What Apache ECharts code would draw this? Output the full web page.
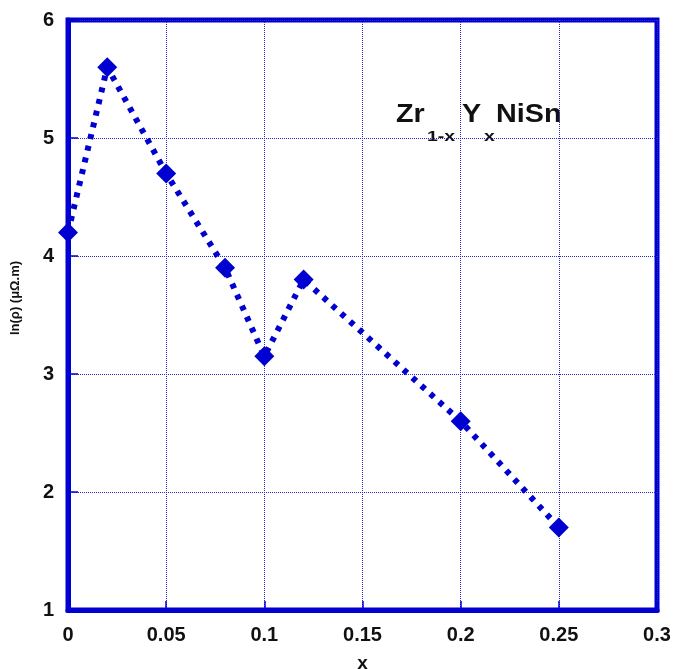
<!DOCTYPE html>
<html>
<head>
<meta charset="utf-8">
<script src="https://cdn.jsdelivr.net/npm/echarts@6/dist/echarts.min.js"></script>
<style>
  html, body { margin: 0; padding: 0; background: #ffffff; }
  #chart { width: 675px; height: 669px; }
</style>
</head>
<body>
<div id="chart"></div>
<script>
// ---- data ----
const xValues = [0, 0.02, 0.05, 0.08, 0.10, 0.12, 0.20, 0.25];
const lnRho   = [4.2, 5.6, 4.7, 3.9, 3.15, 3.8, 2.6, 1.7];

const xTickLabels = ['0', '0.05', '0.1', '0.15', '0.2', '0.25', '0.3'];
const yTickLabels = ['1', '2', '3', '4', '5', '6'];

const xAxisTitle = 'x';
const yAxisTitle = 'ln(ρ) (μΩ.m)';

// ---- styling ----
const BLUE = '#0000d0';
const FONT = "'Liberation Sans', Arial, sans-serif";

const seriesData = xValues.map((x, i) => [x, lnRho[i]]);

const chart = echarts.init(document.getElementById('chart'), null, { renderer: 'canvas' });

chart.setOption({
  backgroundColor: '#ffffff',
  animation: false,
  grid: {
    left: 68, right: 18, top: 20, bottom: 59,
    containLabel: false,
    outerBoundsMode: 'none',
    show: true,
    borderColor: BLUE,
    borderWidth: 5,
    backgroundColor: 'transparent'
  },
  xAxis: {
    type: 'value',
    min: 0, max: 0.3, interval: 0.05,
    name: xAxisTitle,
    nameLocation: 'middle',
    nameGap: 44,
    nameTextStyle: { fontFamily: FONT, fontSize: 19, fontWeight: 'bold', color: '#111' },
    axisLine: { show: true, onZero: false, lineStyle: { color: BLUE, width: 5 } },
    axisTick: { show: true, inside: true, length: 9, lineStyle: { color: BLUE, width: 1.5 } },
    splitLine: { show: true, lineStyle: { color: '#2a2ad0', width: 1, type: 'dotted' } },
    axisLabel: {
      margin: 15,
      fontFamily: FONT, fontSize: 20, fontWeight: 'bold', color: '#111',
      formatter: v => xTickLabels[Math.round(v / 0.05)]
    }
  },
  yAxis: {
    type: 'value',
    min: 1, max: 6, interval: 1,
    axisLine: { show: true, onZero: false, lineStyle: { color: BLUE, width: 5 } },
    axisTick: { show: true, inside: true, length: 10, lineStyle: { color: BLUE, width: 1.5 } },
    splitLine: { show: true, lineStyle: { color: '#2a2ad0', width: 1, type: 'dotted' } },
    axisLabel: {
      margin: 14,
      fontFamily: FONT, fontSize: 20, fontWeight: 'bold', color: '#111',
      formatter: v => yTickLabels[Math.round(v - 1)]
    }
  },
  graphic: [
    { type: 'text', x: 15, y: 298, rotation: Math.PI / 2,
      style: { text: yAxisTitle, font: "bold 13px " + FONT, fill: '#111', align: 'center', verticalAlign: 'middle' } },
    { type: 'text', x: 396, y: 115.5, scaleX: 1.15,
      style: { text: 'Zr', font: "bold 25px " + FONT, fill: '#111', align: 'left', verticalAlign: 'middle' } },
    { type: 'text', x: 427, y: 137, scaleX: 1.3,
      style: { text: '1-x', font: "bold 15px " + FONT, fill: '#111', align: 'left', verticalAlign: 'middle' } },
    { type: 'text', x: 462, y: 115.5, scaleX: 1.15,
      style: { text: 'Y', font: "bold 25px " + FONT, fill: '#111', align: 'left', verticalAlign: 'middle' } },
    { type: 'text', x: 484, y: 137, scaleX: 1.3,
      style: { text: 'x', font: "bold 15px " + FONT, fill: '#111', align: 'left', verticalAlign: 'middle' } },
    { type: 'text', x: 496, y: 115.5, scaleX: 1.15,
      style: { text: 'NiSn', font: "bold 25px " + FONT, fill: '#111', align: 'left', verticalAlign: 'middle' } }
  ],
  series: [{
    type: 'line',
    data: seriesData,
    clip: false,
    symbol: 'diamond',
    symbolSize: 20,
    itemStyle: { color: BLUE },
    lineStyle: { color: BLUE, width: 6, type: [5, 7], cap: 'butt' },
    z: 5
  }]
});
</script>
</body>
</html>
